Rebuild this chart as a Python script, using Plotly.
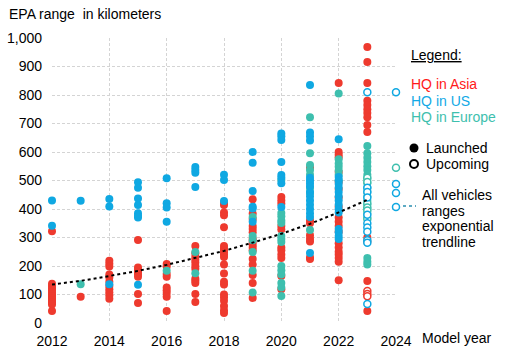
import plotly.graph_objects as go

# ---- data (EPA range in km by model year) ----
asia_launched = {
    2012: [322, 138, 130, 122, 115, 107, 100, 93, 86, 79, 72, 65, 42],
    2013: [92],
    2014: [218, 208, 198, 170, 160, 145, 130, 118, 108, 97, 85],
    2015: [291, 195, 187, 178, 170, 162, 102, 70],
    2016: [207, 198, 172, 162, 125, 115, 105, 92, 42],
    2017: [270, 245, 232, 222, 212, 200, 190, 155, 148, 140, 102, 74],
    2018: [422, 414, 388, 378, 336, 270, 262, 255, 248, 240, 232, 205, 174,
           145, 135, 100, 90, 78, 60, 45, 35],
    2019: [434, 384, 365, 340, 330, 318, 295, 285, 275, 265, 255, 225, 205,
           168, 140, 88],
    2020: [442, 430, 418, 340, 328, 265, 255, 240, 228, 165, 118],
    2021: [545, 360, 350, 308, 296, 286, 230, 225],
    2022: [842, 600, 590, 582, 530, 495, 470, 440, 408, 370, 355, 340, 320,
           280, 265, 250, 240, 228, 215, 150],
    2023: [968, 916, 842, 780, 765, 750, 737, 722, 695, 670, 300, 285, 147,
           42],
}
us_launched = {
    2012: [430, 341],
    2013: [429],
    2014: [435, 409, 136],
    2015: [494, 475, 437, 414, 385, 376, 370, 134],
    2016: [508, 420, 405, 355],
    2017: [547, 537, 527, 477],
    2018: [520, 502, 428],
    2019: [600, 562, 463, 408, 402, 355],
    2020: [665, 655, 642, 565, 519, 510, 490, 407],
    2021: [835, 668, 655, 640, 510, 500, 490, 480, 460, 445, 430, 415, 400,
           385, 372, 246],
    2022: [645, 512, 500, 488, 475, 460, 445, 430, 415, 400, 388, 330, 318,
           305, 295],
}
europe_launched = {
    2013: [136],
    2016: [183],
    2017: [249, 175],
    2019: [372, 305, 290, 249, 183, 107],
    2020: [502, 386, 375, 360, 351, 305, 295, 284, 200, 185, 170, 140, 125, 95],
    2021: [722, 596, 554, 537, 520, 474, 456, 326],
    2022: [805, 575, 560, 548, 535, 520, 500],
    2023: [621, 596, 580, 565, 550, 537, 520, 505, 490, 475, 460, 445, 430,
           415, 400, 385, 370, 228, 215, 205],
}
asia_upcoming = {
    2023: [112, 102, 94],
}
us_upcoming = {
    2023: [810, 475, 460, 440, 380, 350, 335, 320, 290, 282, 67],
    2024: [810, 488, 456, 407],
}
europe_upcoming = {
    2023: [510, 495, 420, 405, 395, 365],
    2024: [545],
}
trend_years = [2012, 2013, 2014, 2015, 2016, 2017, 2018, 2019, 2020, 2021, 2022, 2023]
trend_values = [135, 148, 165, 183, 204, 228, 253, 282, 313, 348, 388, 432]

x_ticks = [2012, 2014, 2016, 2018, 2020, 2022, 2024]
y_ticks = [0, 100, 200, 300, 400, 500, 600, 700, 800, 900, 1000]
y_tick_text = ["0", "100", "200", "300", "400", "500", "600", "700", "800", "900", "1,000"]

RED = "#EE3A2E"
BLUE = "#0FA8E2"
TEAL = "#3EBFAE"
FONT = "Liberation Sans, Arial, sans-serif"


def flatten(d):
    xs, ys = [], []
    for yr, vals in d.items():
        for v in vals:
            xs.append(yr)
            ys.append(v)
    return xs, ys


fig = go.Figure()

for d, c in [(asia_launched, RED), (europe_launched, TEAL), (us_launched, BLUE)]:
    xs, ys = flatten(d)
    fig.add_trace(go.Scatter(x=xs, y=ys, mode="markers", cliponaxis=False,
                             marker=dict(size=8, color=c, line=dict(width=0)),
                             showlegend=False, hoverinfo="x+y"))

for d, c in [(asia_upcoming, RED), (europe_upcoming, TEAL), (us_upcoming, BLUE)]:
    xs, ys = flatten(d)
    fig.add_trace(go.Scatter(x=xs, y=ys, mode="markers", cliponaxis=False,
                             marker=dict(size=7, color="white", line=dict(width=1.5, color=c)),
                             showlegend=False, hoverinfo="x+y"))

fig.add_trace(go.Scatter(x=trend_years, y=trend_values, mode="lines",
                         line=dict(color="black", width=2, dash="dot"),
                         showlegend=False, hoverinfo="skip"))

W, H = 530, 354
L, R, T, B = 52, 134, 38, 31
pw, ph = W - L - R, H - T - B


def px(xp):
    return (xp - L) / pw


def py(yp):
    return (H - B - yp) / ph


annotations = []


def ann(text, x, y, color="black", size=14, xanchor="left"):
    annotations.append(dict(text=text, x=px(x), y=py(y), xref="paper", yref="paper",
                            xanchor=xanchor, yanchor="middle", showarrow=False,
                            font=dict(family=FONT, size=size, color=color)))


ann("EPA range  in kilometers", 7, 14)
ann("<u>Legend:</u>", 409, 55)
ann("HQ in Asia", 409, 84, color="#FF1A1A")
ann("HQ in US", 409, 101, color="#12A9E6")
ann("HQ in Europe", 409, 117, color="#3EC0AE")
ann("Launched", 424, 148)
ann("Upcoming", 424, 164)
ann("All vehicles", 420, 195)
ann("ranges", 420, 211)
ann("exponential", 420, 226)
ann("trendline", 420, 242)
ann("Model year", 420, 338)

shapes = [
    dict(type="circle", xref="paper", yref="paper", xsizemode="pixel", ysizemode="pixel",
         xanchor=px(414), yanchor=py(148), x0=-4.5, x1=4.5, y0=-4.5, y1=4.5,
         fillcolor="black", line=dict(width=0)),
    dict(type="circle", xref="paper", yref="paper", xsizemode="pixel", ysizemode="pixel",
         xanchor=px(414), yanchor=py(164), x0=-4, x1=4, y0=-4, y1=4,
         fillcolor="white", line=dict(width=2, color="black")),
    dict(type="line", xref="paper", yref="paper", x0=px(403), x1=px(416),
         y0=py(206), y1=py(206), line=dict(color="#2A8FB0", width=1.5, dash="dot")),
]

fig.update_layout(
    width=W, height=H,
    margin=dict(l=L, r=R, t=T, b=B, pad=0, autoexpand=False),
    plot_bgcolor="white", paper_bgcolor="white",
    font=dict(family=FONT, size=14, color="black"),
    annotations=annotations, shapes=shapes,
    xaxis=dict(range=[2012, 2024], tickvals=x_ticks, ticktext=[str(t) for t in x_ticks],
               showgrid=True, gridcolor="#D4D4D4", griddash="3px,2px", gridwidth=1,
               zeroline=False, showline=False, ticks="", ticklabelstandoff=8,
               automargin=False,
               tickfont=dict(family=FONT, size=14, color="black")),
    yaxis=dict(range=[0, 1000], tickvals=y_ticks, ticktext=y_tick_text,
               showgrid=True, gridcolor="#D4D4D4", griddash="3px,2px", gridwidth=1,
               zeroline=False, showline=False, ticks="", ticklabelstandoff=9,
               automargin=False,
               tickfont=dict(family=FONT, size=14, color="black")),
)

fig.write_html("out.html")
